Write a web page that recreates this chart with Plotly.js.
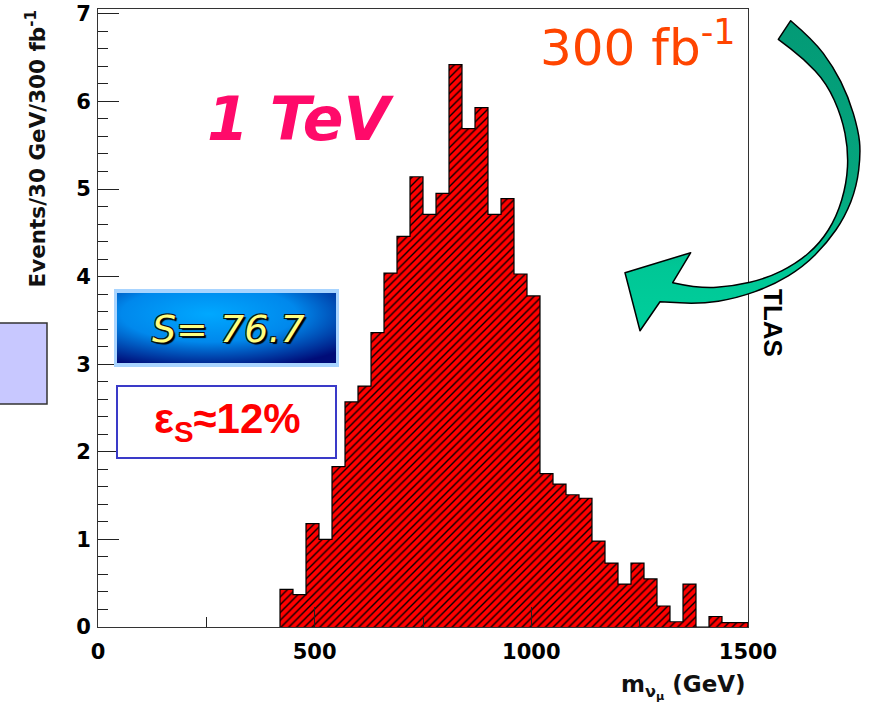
<!DOCTYPE html>
<html>
<head>
<meta charset="utf-8">
<script src="https://cdn.plot.ly/plotly-3.0.1.min.js"></script>
<style>
html,body{margin:0;padding:0;background:#fff;}
#chart{width:870px;height:704px;}
</style>
</head>
<body>
<div id="chart"></div>
<script>
// ---- data ----
const binLowEdges = [420,450,480,510,540,570,600,630,660,690,720,750,780,810,840,870,900,930,
                     960,990,1020,1050,1080,1110,1140,1170,1200,1230,1260,1290,1320,1350,1380,1410,1440,1470];
const binWidth = 30;
const eventsPerBin = [0.43,0.37,1.18,1.00,1.83,2.57,2.75,3.36,4.04,4.46,5.14,4.71,4.95,6.42,5.69,5.93,4.71,4.89,
                      4.03,3.78,1.75,1.63,1.51,1.47,0.98,0.73,0.49,0.73,0.55,0.24,0.06,0.49,0,0.12,0.05,0.05];
const xTickValues = [0,500,1000,1500];
const yTickValues = [0,1,2,3,4,5,6,7];

// ---- page geometry ----
const W = 870, H = 704, L = 98, R = 748, T = 9, B = 627;
function px(x){ return (x - L) / (R - L); }
function py(y){ return (B - y) / (B - T); }

const centers = binLowEdges.map(e => e + binWidth / 2);
const lastEdge = binLowEdges[binLowEdges.length-1] + binWidth;
const outlineX = [binLowEdges[0]].concat(binLowEdges, [lastEdge, lastEdge]);
const outlineY = [0].concat(eventsPerBin, [eventsPerBin[eventsPerBin.length-1], 0]);

const bars = {
  type: 'bar', x: centers, y: eventsPerBin, width: binWidth,
  marker: {color: '#ff0000', line: {width: 0},
           pattern: {shape: '/', fgcolor: '#000000', bgcolor: '#ff0000', size: 5.5, solidity: 0.25}},
  hoverinfo: 'skip'
};
const outline = {
  type: 'scatter', mode: 'lines', x: outlineX, y: outlineY,
  line: {shape: 'hv', color: '#000', width: 1.2}, hoverinfo: 'skip'
};

// ---- decorative arrow + gradient box as an svg image ----
function smooth(pts){
  let s = ' L' + pts[0].join(',');
  for (let i = 1; i < pts.length - 1; i++) {
    const m = [(pts[i][0] + pts[i+1][0]) / 2, (pts[i][1] + pts[i+1][1]) / 2];
    s += ' Q' + pts[i].join(',') + ' ' + m.join(',');
  }
  s += ' L' + pts[pts.length-1].join(',');
  return s;
}
const outer = [[790.7,20.7],[813.3,40],[833.3,66.7],[848.3,96.7],[858.3,130],[860.7,153.3],[856.7,186.7],
               [845,216.7],[826.7,243.3],[803.3,266.7],[773.3,285],[736.7,298.3],[700,304],[660,301.7]];
const inner = [[672.7,282.7],[700,288.7],[733.3,286],[766.7,278.3],[796.7,263.3],[820,243.3],[836.7,216.7],
               [846.7,183.3],[848.3,150],[841.7,116.7],[826.7,83.3],[803.3,58.3],[778.3,39.3]];
const arrowPath = 'M778.3,39.3' + smooth(outer) + ' L640,330.7 L625,272.7 L690.7,252.7' + smooth(inner) + ' Z';

const svg = '<svg xmlns="http://www.w3.org/2000/svg" width="870" height="704" viewBox="0 0 870 704">' +
  '<defs>' +
  '<radialGradient id="bg" cx="0.42" cy="0.3" r="0.8">' +
  '<stop offset="0" stop-color="#00a8ff"/><stop offset="0.5" stop-color="#0088ec"/><stop offset="1" stop-color="#000c78"/>' +
  '</radialGradient>' +
  '<linearGradient id="ag" x1="0" y1="0" x2="0" y2="1">' +
  '<stop offset="0" stop-color="#039a76"/><stop offset="0.55" stop-color="#05a67e"/>' +
  '<stop offset="0.8" stop-color="#00c796"/><stop offset="1" stop-color="#00cf9c"/>' +
  '</linearGradient></defs>' +
  '<rect x="114" y="289" width="225" height="78" fill="#a8d4ff"/>' +
  '<rect x="117" y="293" width="219" height="70" fill="url(#bg)"/>' +
  '<path d="' + arrowPath + '" fill="url(#ag)" stroke="#000" stroke-width="1.5" stroke-linejoin="round"/>' +
  '</svg>';
const svgURI = 'data:image/svg+xml;charset=utf-8,' + encodeURIComponent(svg);

const tickFont = {family: 'DejaVu Sans', size: 21, weight: 'bold', color: '#000'};

const layout = {
  width: W, height: H,
  margin: {l: L, r: W - R, t: T, b: H - B, pad: 0},
  paper_bgcolor: '#fff', plot_bgcolor: '#fff',
  showlegend: false, bargap: 0,
  xaxis: {
    range: [0, 1500], tickvals: xTickValues, ticktext: xTickValues.map(String),
    ticks: 'inside', ticklen: 20, tickwidth: 1, tickcolor: '#222',
    minor: {dtick: 250, tick0: 0, ticks: 'inside', ticklen: 10, tickwidth: 1, tickcolor: '#222', showgrid: false},
    showline: true, linecolor: '#333', linewidth: 1, mirror: true,
    showgrid: false, zeroline: false, layer: 'above traces', fixedrange: true,
    tickfont: tickFont, ticklabelstandoff: 6
  },
  yaxis: {
    range: [0, 7.055], tickvals: yTickValues, ticktext: yTickValues.map(String),
    ticks: 'inside', ticklen: 21, tickwidth: 1, tickcolor: '#222',
    minor: {dtick: 0.2, tick0: 0, ticks: 'inside', ticklen: 10, tickwidth: 1, tickcolor: '#222', showgrid: false},
    showline: true, linecolor: '#333', linewidth: 1, mirror: true,
    showgrid: false, zeroline: false, layer: 'above traces', fixedrange: true,
    tickfont: tickFont, ticklabelstandoff: 2
  },
  images: [{
    source: svgURI, xref: 'paper', yref: 'paper',
    x: px(0), y: py(0), sizex: W / (R - L), sizey: H / (B - T),
    xanchor: 'left', yanchor: 'top', sizing: 'stretch', layer: 'above'
  }],
  shapes: [
    {type: 'rect', xref: 'paper', yref: 'paper', x0: px(-5), x1: px(47), y0: py(404), y1: py(323),
     fillcolor: '#c8c8ff', line: {color: '#333', width: 1.5}},
    {type: 'rect', xref: 'paper', yref: 'paper', x0: px(117), x1: px(336), y0: py(458), y1: py(386),
     fillcolor: '#ffffff', line: {color: '#3a3ac8', width: 2}, layer: 'above'}
  ],
  annotations: [
    {text: 'Events/30 GeV/300 fb<sup>-1</sup>', textangle: -90, xref: 'paper', yref: 'paper',
     x: px(35), y: py(9), xanchor: 'center', yanchor: 'top', showarrow: false,
     font: {family: 'DejaVu Sans', size: 21.5, weight: 'bold', color: '#111'}},
    {text: 'm<sub>ν<sub>μ</sub></sub> (GeV)', xref: 'paper', yref: 'paper',
     x: px(748), y: py(687), xanchor: 'right', yanchor: 'middle', showarrow: false,
     font: {family: 'DejaVu Sans', size: 23, weight: 'bold', color: '#111'}},
    {text: '1 TeV', xref: 'paper', yref: 'paper', x: px(301), y: py(119), xanchor: 'center', yanchor: 'middle',
     showarrow: false, font: {family: 'DejaVu Sans', size: 60, weight: 'bold', style: 'italic', color: '#ff0a6a'}},
    {text: '300 fb<sup>-1</sup>', xref: 'paper', yref: 'paper', x: px(638), y: py(45), xanchor: 'center', yanchor: 'middle',
     showarrow: false, font: {family: 'DejaVu Sans', size: 50, color: '#ff4500'}},
    {text: 'S= 76.7', xref: 'paper', yref: 'paper', x: px(228), y: py(329), xanchor: 'center', yanchor: 'middle',
     showarrow: false, font: {family: 'DejaVu Sans', size: 38, style: 'italic', color: '#ffff80',
       shadow: '-1px -1px 0 #111, 1px -1px 0 #111, -1px 1px 0 #111, 2px 2px 1px #000'}},
    {text: 'ε<sub>S</sub>≈12%', xref: 'paper', yref: 'paper', x: px(227), y: py(421), xanchor: 'center', yanchor: 'middle',
     showarrow: false, font: {family: 'Liberation Sans', size: 42, weight: 'bold', color: '#ff0000'}},
    {text: 'TLAS', textangle: 90, xref: 'paper', yref: 'paper', x: px(773), y: py(323), xanchor: 'center', yanchor: 'middle',
     showarrow: false, font: {family: 'Liberation Sans', size: 26, weight: 'bold', color: '#000'}}
  ]
};

Plotly.newPlot('chart', [bars, outline], layout, {displayModeBar: false, staticPlot: true});
</script>
</body>
</html>
